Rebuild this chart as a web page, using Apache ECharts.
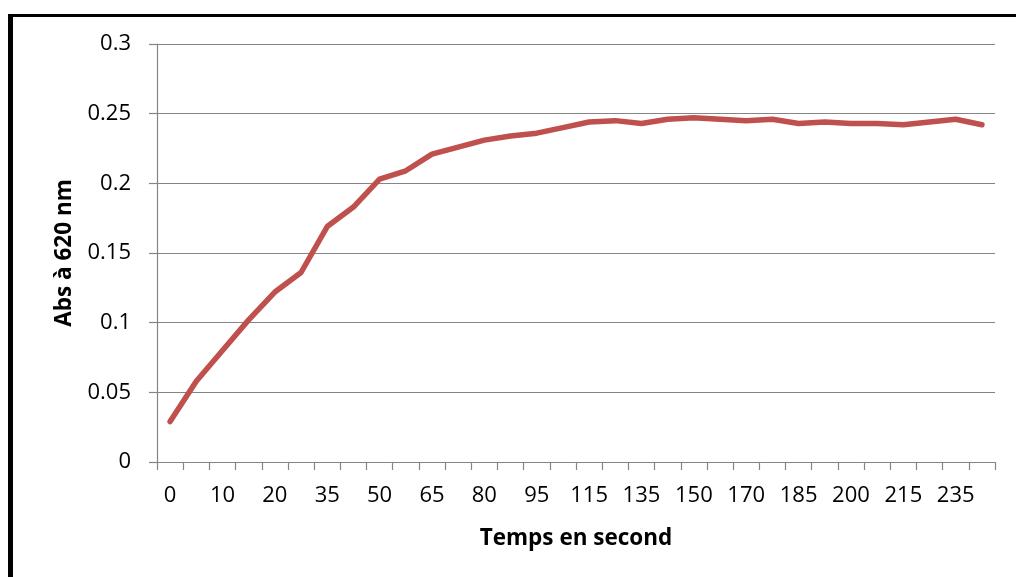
<!DOCTYPE html>
<html>
<head>
<meta charset="utf-8">
<script src="https://cdn.jsdelivr.net/npm/echarts@6/dist/echarts.min.js"></script>
<style>
  html, body { margin: 0; padding: 0; background: #fff; }
  #chart { width: 1016px; height: 577px; }
</style>
</head>
<body>
<div id="chart"></div>
<script>
// Sampling times (s) and absorbance readings at 620 nm
const times = [0, 5, 10, 15, 20, 28, 35, 43, 50, 58, 65, 73, 80, 88, 95, 105,
               115, 125, 135, 143, 150, 160, 170, 178, 185, 193, 200, 208, 215, 225, 235, 245];
const absorbance = [0.029, 0.058, 0.080, 0.102, 0.122, 0.136, 0.169, 0.183, 0.203, 0.209,
                    0.221, 0.226, 0.231, 0.234, 0.236, 0.240, 0.244, 0.245, 0.243, 0.246,
                    0.247, 0.246, 0.245, 0.246, 0.243, 0.244, 0.243, 0.243, 0.242, 0.244,
                    0.246, 0.242];
const yTicks = { min: 0, max: 0.3, step: 0.05 };

const FONT = '"Open Sans", "Liberation Sans", sans-serif';
const chart = echarts.init(document.getElementById('chart'), null, { renderer: 'canvas' });

chart.setOption({
  animation: false,
  backgroundColor: '#ffffff',
  graphic: [
    // heavy black frame around the chart area
    { type: 'rect', left: 8, top: 14, shape: { width: 5, height: 600 }, style: { fill: '#000' } },
    { type: 'rect', left: 8, top: 14, shape: { width: 1100, height: 3 }, style: { fill: '#000' } }
  ],
  grid: { left: 157, right: 21, top: 44, bottom: 115 },
  xAxis: {
    type: 'category',
    data: times.map(String),
    boundaryGap: true,
    name: 'Temps en second',
    nameLocation: 'middle',
    nameGap: 65,
    nameTextStyle: { fontFamily: FONT, fontWeight: 'bold', fontSize: 22.5, color: '#000' },
    axisLine: { show: true, lineStyle: { color: '#858585', width: 1.2 } },
    axisTick: { show: true, interval: 0, length: 8, lineStyle: { color: '#858585', width: 1.2 } },
    axisLabel: { interval: 1, margin: 23, fontFamily: FONT, fontSize: 22, color: '#000' },
    splitLine: { show: false }
  },
  yAxis: {
    type: 'value',
    min: yTicks.min,
    max: yTicks.max,
    interval: yTicks.step,
    name: 'Abs à 620 nm',
    nameLocation: 'middle',
    nameRotate: 90,
    nameGap: 80,
    nameTextStyle: { fontFamily: FONT, fontWeight: 'bold', fontSize: 22.5, color: '#000' },
    axisLine: { show: true, lineStyle: { color: '#858585', width: 1.2 } },
    axisTick: { show: true, length: 8, lineStyle: { color: '#858585', width: 1.2 } },
    axisLabel: { margin: 26, fontFamily: FONT, fontSize: 22, color: '#000' },
    splitLine: { show: true, lineStyle: { color: '#858585', width: 1.2 } }
  },
  series: [{
    type: 'line',
    data: absorbance,
    showSymbol: false,
    symbol: 'none',
    smooth: false,
    lineStyle: { color: '#C0504D', width: 5.5, cap: 'round', join: 'round' }
  }]
});
</script>
</body>
</html>
